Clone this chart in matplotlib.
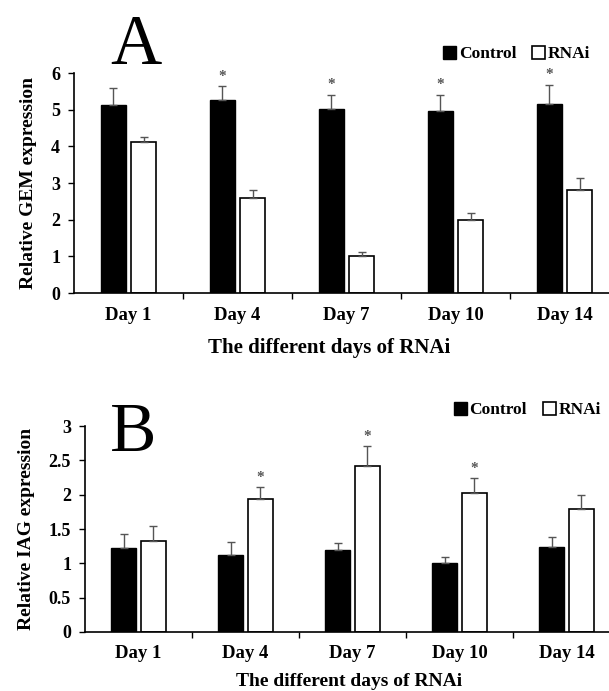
import matplotlib.pyplot as plt
import numpy as np

# data
days = ["Day 1", "Day 4", "Day 7", "Day 10", "Day 14"]

gem_control = [5.12, 5.26, 5.02, 4.96, 5.15]
gem_control_err = [0.47, 0.39, 0.39, 0.45, 0.53]
gem_rnai = [4.11, 2.60, 1.00, 1.98, 2.81]
gem_rnai_err = [0.14, 0.20, 0.11, 0.20, 0.34]
gem_star = [False, True, True, True, True]  # over control bars

iag_control = [1.22, 1.12, 1.19, 1.01, 1.24]
iag_control_err = [0.21, 0.19, 0.10, 0.08, 0.15]
iag_rnai = [1.32, 1.94, 2.42, 2.02, 1.79]
iag_rnai_err = [0.22, 0.17, 0.29, 0.22, 0.20]
iag_star = [False, True, True, True, False]  # over RNAi bars

plt.rcParams['font.family'] = ['Liberation Serif', 'DejaVu Serif']
plt.rcParams['font.weight'] = 'bold'

W, H = 609, 691
fig = plt.figure(figsize=(W / 100, H / 100), dpi=100)


def px_axes(left, top, right, bottom):
    return fig.add_axes([left / W, 1 - bottom / H, (right - left) / W, (bottom - top) / H])


def draw_panel(ax, ctrl, ctrl_err, rnai, rnai_err, ymax, ystep, ylabel, star, star_on_rnai):
    x = np.arange(len(days))
    w = 0.23
    off = 0.14
    ekw = dict(ecolor='#555555', elinewidth=1.0, capsize=3, capthick=1.0)
    ax.bar(x - off, ctrl, w, color='black', edgecolor='black', linewidth=1.0,
           yerr=[np.zeros(len(x)), ctrl_err], error_kw=ekw, label='Control')
    ax.bar(x + off, rnai, w, color='white', edgecolor='black', linewidth=1.2,
           yerr=[np.zeros(len(x)), rnai_err], error_kw=ekw, label='RNAi')
    for i, s in enumerate(star):
        if s:
            if star_on_rnai:
                xs, ys = x[i] + off, rnai[i] + rnai_err[i]
            else:
                xs, ys = x[i] - off, ctrl[i] + ctrl_err[i]
            ax.text(xs, ys + ymax * 0.015, '*', ha='center', va='bottom',
                    fontsize=11, color='#555555')
    ax.set_xlim(-0.5, 4.5)
    ax.set_ylim(0, ymax)
    ticks = np.arange(0, ymax + 0.001, ystep)
    ax.set_yticks(ticks)
    ax.set_yticklabels([('%g' % v) for v in ticks], fontsize=13, fontweight='bold')
    ax.set_xticks(np.arange(0.5, 4.0, 1.0))
    ax.set_xticklabels([])
    ax.tick_params(axis='x', direction='out', length=4, width=1.0)
    ax.tick_params(axis='y', direction='out', length=4, width=1.0, pad=6)
    for i, d in enumerate(days):
        ax.text(i, -0.065 * ymax, d, ha='center', va='top', fontsize=13.5,
                fontweight='bold')
    ax.spines['top'].set_visible(False)
    ax.spines['right'].set_visible(False)
    ax.spines['left'].set_linewidth(1.2)
    ax.spines['bottom'].set_linewidth(1.2)
    ax.set_ylabel(ylabel, fontsize=14, fontweight='bold', labelpad=10)


axA = px_axes(74, 73, 619, 293)
draw_panel(axA, gem_control, gem_control_err, gem_rnai, gem_rnai_err, 6, 1,
           'Relative GEM expression', gem_star, False)
axB = px_axes(85, 426, 620, 632)
draw_panel(axB, iag_control, iag_control_err, iag_rnai, iag_rnai_err, 3, 0.5,
           'Relative IAG expression', iag_star, True)

# x axis titles
fig.text(329 / W, 1 - 348 / H, 'The different days of RNAi', ha='center', va='center',
         fontsize=15, fontweight='bold')
fig.text(349 / W, 1 - 681 / H, 'The different days of RNAi', ha='center', va='center',
         fontsize=14, fontweight='bold')

# panel letters
fig.text(110 / W, 1 - 64 / H, 'A', fontsize=51, fontweight='normal', ha='left', va='baseline')
fig.text(110 / W, 1 - 451 / H, 'B', fontsize=50, fontweight='normal', ha='left', va='baseline')

# legends
for ax, lx, ly in [(axA, 443, 46), (axB, 454, 402)]:
    ax.legend(loc='upper left', bbox_to_anchor=(lx / W, 1 - ly / H), bbox_transform=fig.transFigure,
              ncol=2, frameon=False, fontsize=12.5, handlelength=0.75, handleheight=0.75,
              handletextpad=0.15, columnspacing=0.9, borderpad=0, borderaxespad=0)

fig.savefig('out.png', dpi=100)
